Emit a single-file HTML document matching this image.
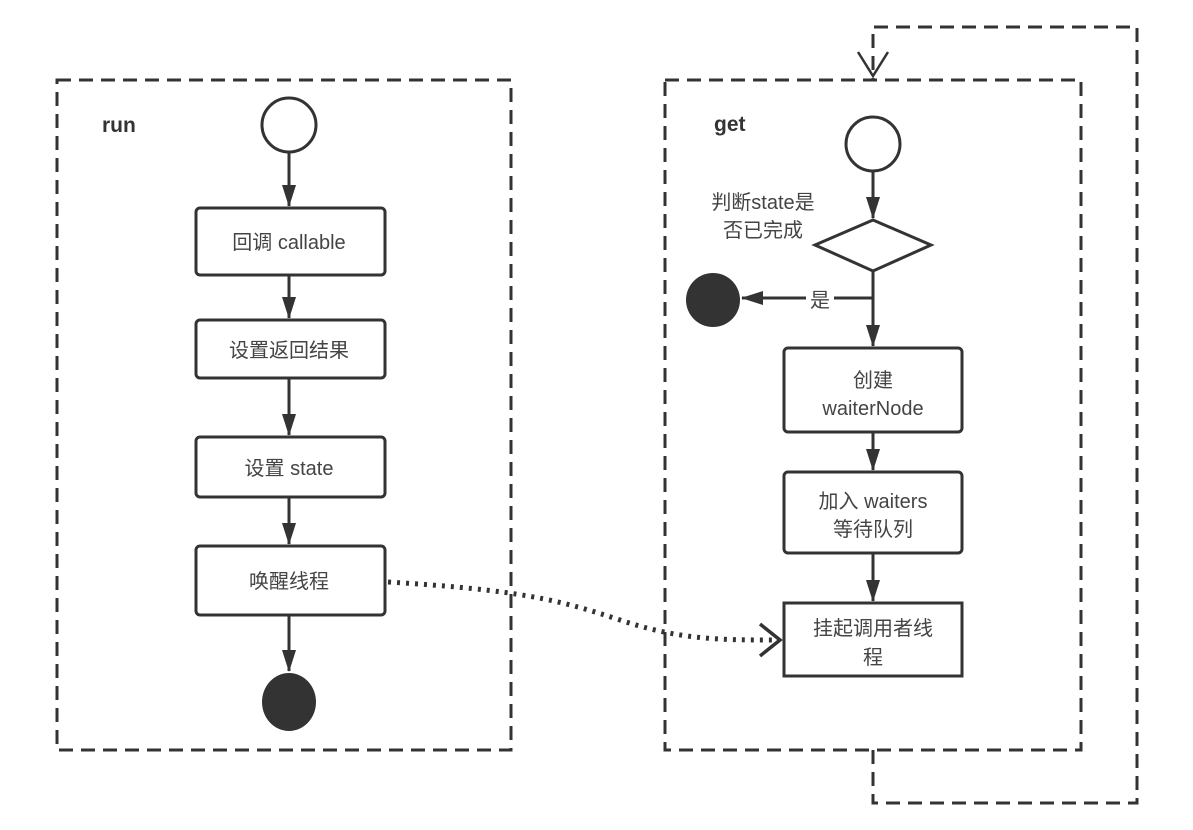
<!DOCTYPE html>
<html><head><meta charset="utf-8"><style>
body{margin:0;background:#fff}
svg text{font-family:"Liberation Sans","Noto Sans CJK SC",sans-serif;fill:#444}
</style></head><body>
<svg width="1193" height="825" viewBox="0 0 1193 825" xmlns="http://www.w3.org/2000/svg">
<defs>
<marker id="a" markerWidth="22" markerHeight="16" refX="21" refY="8" orient="auto" markerUnits="userSpaceOnUse"><path d="M0,1 L22,8 L0,15 Z" fill="#333"/></marker>
</defs>
<g fill="none" stroke="#333" stroke-width="3" stroke-dasharray="14,8">
<rect x="57" y="80" width="454" height="670"/>
<rect x="665" y="80" width="416" height="670"/>
<path d="M873,750 V803 H1137 V27 H873 V80"/>
</g>
<path d="M858,52 L873,76 L888,52" fill="none" stroke="#333" stroke-width="2.5"/>
<text x="102" y="132" font-size="21" font-weight="bold" style="fill:#333">run</text>
<text x="714" y="131" font-size="21" font-weight="bold" style="fill:#333">get</text>
<g stroke="#333" stroke-width="3" fill="#fff">
<circle cx="289" cy="125" r="27"/>
<rect x="196" y="208" width="189" height="67" rx="4"/>
<rect x="196" y="320" width="189" height="58" rx="4"/>
<rect x="196" y="437" width="189" height="60" rx="4"/>
<rect x="196" y="546" width="189" height="69" rx="4"/>
<circle cx="873" cy="144" r="27"/>
<path d="M873,220 L931,245 L873,271 L815,245 Z"/>
<rect x="784" y="348" width="178" height="84" rx="4"/>
<rect x="784" y="472" width="178" height="81" rx="4"/>
<rect x="784" y="603" width="178" height="73"/>
</g>
<ellipse cx="289" cy="702" rx="27" ry="29" fill="#333"/>
<circle cx="713" cy="300" r="27" fill="#333"/>
<g stroke="#333" stroke-width="3" marker-end="url(#a)">
<line x1="289" y1="152" x2="289" y2="206"/>
<line x1="289" y1="275" x2="289" y2="318"/>
<line x1="289" y1="378" x2="289" y2="435"/>
<line x1="289" y1="497" x2="289" y2="544"/>
<line x1="289" y1="615" x2="289" y2="671"/>
<line x1="873" y1="171" x2="873" y2="218"/>
<line x1="873" y1="271" x2="873" y2="346"/>
<line x1="873" y1="298" x2="742" y2="298"/>
<line x1="873" y1="432" x2="873" y2="470"/>
<line x1="873" y1="553" x2="873" y2="601"/>
</g>
<rect x="806" y="288" width="28" height="22" fill="#fff"/>
<text x="820" y="307" font-size="20" text-anchor="middle">是</text>
<path d="M388,582 C520,590 560,600 620,620 C680,640 720,640 778,640" fill="none" stroke="#333" stroke-width="5" stroke-dasharray="3,6"/>
<path d="M760,624 L780,640 L760,656" fill="none" stroke="#333" stroke-width="3.5"/>
<g font-size="20" text-anchor="middle">
<text x="289" y="249">回调 callable</text>
<text x="289" y="357">设置返回结果</text>
<text x="289" y="475">设置 state</text>
<text x="289" y="588">唤醒线程</text>
<text x="873" y="387">创建</text>
<text x="873" y="415">waiterNode</text>
<text x="873" y="508">加入 waiters</text>
<text x="873" y="536">等待队列</text>
<text x="873" y="635">挂起调用者线</text>
<text x="873" y="664">程</text>
<text x="763" y="209">判断state是</text>
<text x="763" y="237">否已完成</text>
</g>
</svg>
</body></html>
